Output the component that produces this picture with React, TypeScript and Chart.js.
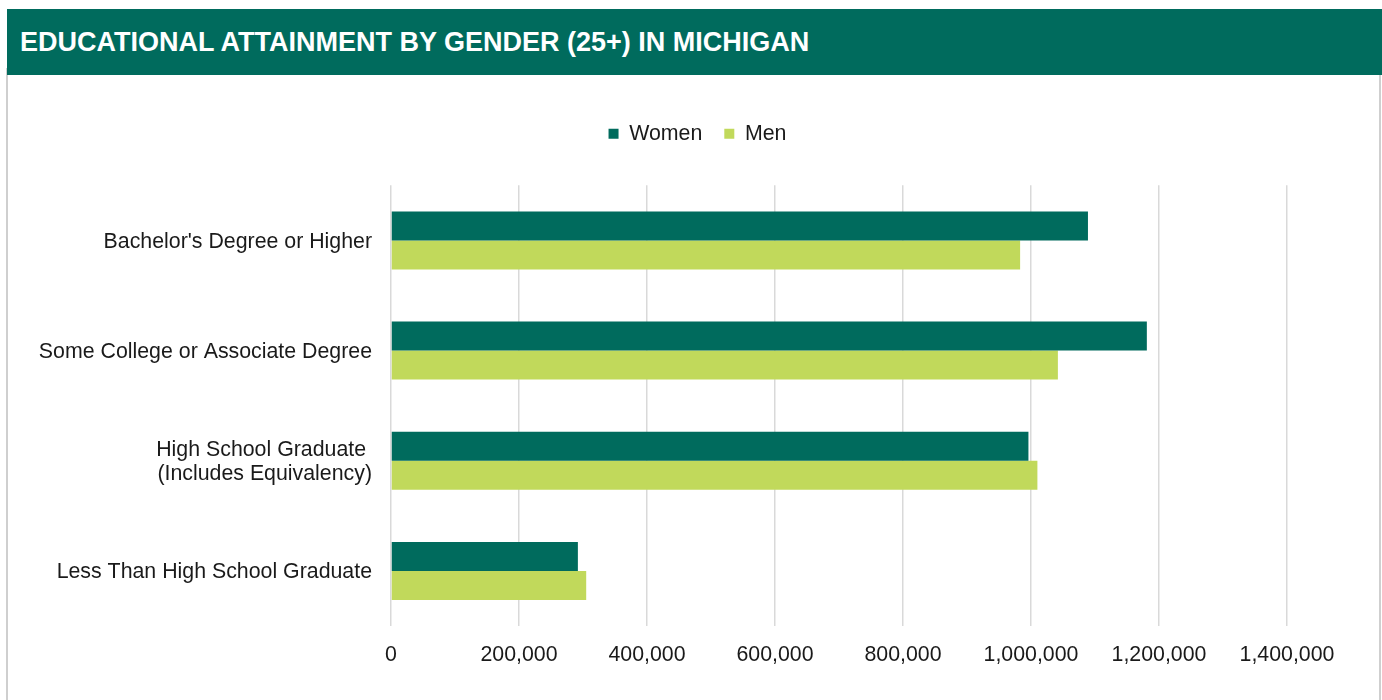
import React, { useEffect, useRef } from "react";
import { Chart, registerables } from "chart.js";

Chart.register(...registerables);

const TITLE = "EDUCATIONAL ATTAINMENT BY GENDER (25+) IN MICHIGAN";
const categories: (string | string[])[] = [
  "Bachelor's Degree or Higher",
  "Some College or Associate Degree",
  ["High School Graduate ", "(Includes Equivalency)"],
  "Less Than High School Graduate",
];
const seriesNames = ["Women", "Men"];
const womenValues = [1089000, 1181000, 996000, 292000];
const menValues = [983000, 1042000, 1010000, 305000];
const xMin = 0;
const xMax = 1400000;
const xStep = 200000;

const DARK = "#006B5D";
const LIME = "#C1D95B";
const FONT = "'Liberation Sans', Arial, sans-serif";

export default function App() {
  const ref = useRef<HTMLCanvasElement | null>(null);

  useEffect(() => {
    document.body.style.margin = "0";
    if (!ref.current) return;
    const legendSpacer = {
      id: "legendSpacer",
      beforeInit(chart: any) {
        const legend = chart.legend;
        if (!legend) return;
        const orig = legend.fit;
        legend.fit = function () {
          orig.call(this);
          this.height += 31;
        };
      },
      afterLayout(chart: any) {
        const legend = chart.legend;
        if (!legend) return;
        legend.left += 50;
        legend.right += 50;
      },
    };
    const chart = new Chart(ref.current, {
      type: "bar",
      data: {
        labels: categories as any,
        datasets: [
          {
            label: seriesNames[0],
            data: womenValues,
            backgroundColor: DARK,
            categoryPercentage: 0.526,
            barPercentage: 1,
          },
          {
            label: seriesNames[1],
            data: menValues,
            backgroundColor: LIME,
            categoryPercentage: 0.526,
            barPercentage: 1,
          },
        ],
      },
      plugins: [legendSpacer],
      options: {
        indexAxis: "y",
        animation: false,
        responsive: false,
        maintainAspectRatio: false,
        layout: { padding: { top: 26, right: 91, bottom: 0, left: 0 } },
        plugins: {
          tooltip: { enabled: false },
          legend: {
            position: "top",
            labels: {
              boxWidth: 10,
              boxHeight: 10,
              padding: 22,
              color: "#1a1a1a",
              font: { family: FONT, size: 21.33 },
            },
          },
        },
        scales: {
          x: {
            min: xMin,
            max: xMax,
            grid: { color: "#d9d9d9", lineWidth: 1.5, drawTicks: false },
            border: { display: false },
            ticks: {
              stepSize: xStep,
              padding: 16,
              color: "#1a1a1a",
              font: { family: FONT, size: 21.33 },
              callback: (v: any) => Number(v).toLocaleString("en-US"),
            },
            afterFit: (s: any) => {
              s.height = 74;
            },
          },
          y: {
            grid: { display: false, drawTicks: false },
            border: { display: false },
            ticks: {
              padding: 19,
              labelOffset: 1.5,
              color: "#1a1a1a",
              font: { family: FONT, size: 21.33, lineHeight: 1.13 },
            },
            afterFit: (s: any) => {
              s.width = 383;
            },
          },
        },
      },
    });
    return () => chart.destroy();
  }, []);

  return (
    <div style={{ position: "relative", width: 1382, height: 700, background: "#fff", overflow: "hidden" }}>
      <div
        style={{
          position: "absolute",
          left: 6,
          top: 68,
          width: 1371,
          height: 640,
          borderLeft: "2px solid #cfcfcf",
          borderRight: "2px solid #cfcfcf",
        }}
      />
      <div
        style={{
          position: "absolute",
          left: 7,
          top: 9,
          width: 1375,
          height: 66,
          background: DARK,
          color: "#fff",
          fontFamily: FONT,
          fontWeight: "bold",
          fontSize: 27,
          lineHeight: "66px",
          paddingLeft: 13,
          boxSizing: "border-box",
          whiteSpace: "nowrap",
        }}
      >
        {TITLE}
      </div>
      <canvas
        ref={ref}
        width={1370}
        height={625}
        style={{ position: "absolute", left: 8, top: 75, width: 1370, height: 625 }}
      />
    </div>
  );
}
